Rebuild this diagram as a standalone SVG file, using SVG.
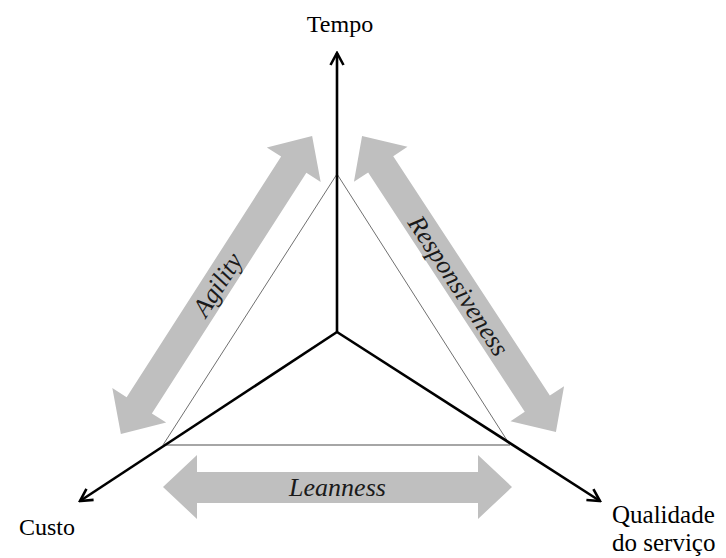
<svg xmlns="http://www.w3.org/2000/svg" width="726" height="558" viewBox="0 0 726 558">
<style>
  .axis { stroke:#000; stroke-width:2.6; fill:none; }
  .tri { stroke:#707070; stroke-width:1; fill:none; }
  .base { stroke:#a6a6a6; stroke-width:2; fill:none; }
  .band { fill:#bfbfbf; }
  .lbl { font-family:"Liberation Serif","Times New Roman",serif; font-size:24px; fill:#000; }
  .big { font-size:25px; }
  .it { font-family:"Liberation Serif","Times New Roman",serif; font-size:26px; font-style:italic; fill:#1a1a1a; text-anchor:middle; }
</style>
<defs>
  <marker id="open" viewBox="-14 -8 16 16" refX="0" refY="0" markerWidth="16" markerHeight="16" markerUnits="userSpaceOnUse" orient="auto">
    <path d="M -12 -6.5 L 0 0 L -12 6.5" fill="none" stroke="#000" stroke-width="2.6" stroke-linejoin="miter"/>
  </marker>
  <polygon id="dbl354" points="-177,0 -143,-32 -143,-15 143,-15 143,-32 177,0 143,32 143,15 -143,15 -143,32"/>
</defs>
<rect width="726" height="558" fill="#fff"/>

<g id="triangle">
  <path class="tri" d="M 163 445 L 337 174 L 510 445"/>
  <path class="base" d="M 163 445 L 510 445"/>
</g>

<g id="agility">
  <use href="#dbl354" class="band" transform="translate(216.5,285) rotate(-57.3)"/>
  <text class="it" transform="translate(218,285) rotate(-57.3)" x="0" y="8">Agility</text>
</g>

<g id="responsiveness">
  <use href="#dbl354" class="band" transform="translate(459,284) rotate(56.8)"/>
  <text class="it" transform="translate(458,286) rotate(56.8)" x="0" y="8">Responsiveness</text>
</g>

<g id="leanness">
  <polygon class="band" points="163,487 197,455 197,472 478,472 478,455 512,487 478,519 478,503 197,503 197,519"/>
  <text class="it" x="337.5" y="496">Leanness</text>
</g>

<g id="connectors">
  <line class="axis" x1="337" y1="332" x2="337" y2="53" marker-end="url(#open)"/>
  <line class="axis" x1="337" y1="332" x2="80" y2="501" marker-end="url(#open)"/>
  <line class="axis" x1="337" y1="332" x2="600" y2="501" marker-end="url(#open)"/>
</g>

<g id="tempo"><text class="lbl" x="340" y="32" text-anchor="middle">Tempo</text></g>
<g id="custo"><text class="lbl" x="19" y="535">Custo</text></g>
<g id="qualidade">
  <text class="lbl big" x="612" y="523">Qualidade</text>
  <text class="lbl big" x="612" y="551">do serviço</text>
</g>
</svg>
